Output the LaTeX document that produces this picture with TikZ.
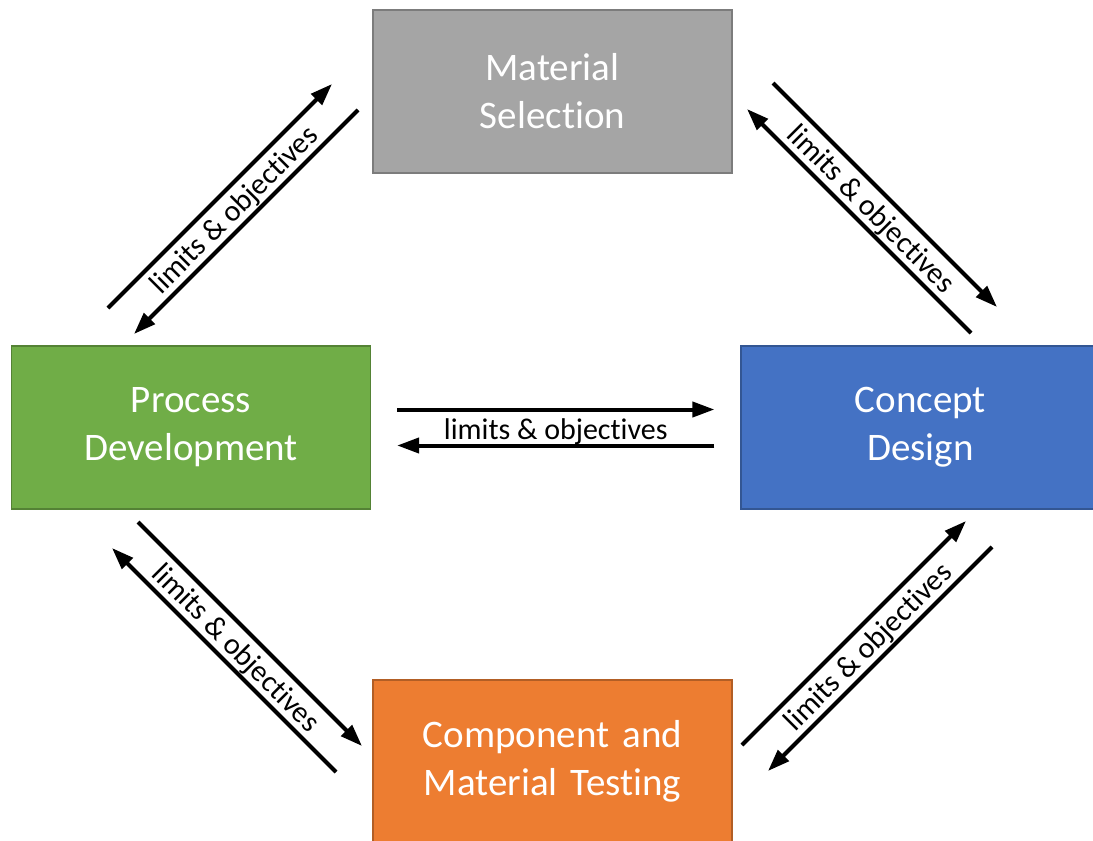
\documentclass[tikz,border=0pt]{standalone}
\usepackage{fontspec}
\setmainfont{Carlito}[Ligatures=NoCommon]
\usetikzlibrary{arrows.meta}

\definecolor{msgray}{HTML}{A5A5A5}
\definecolor{pdgreen}{HTML}{70AD47}
\definecolor{cdblue}{HTML}{4472C4}
\definecolor{ctorange}{HTML}{ED7D31}

\begin{document}
\begin{tikzpicture}[x=1pt,y=1pt,node distance=336pt]

\tikzstyle{box} = [rectangle, minimum width=359pt, minimum height=163pt, text width=340pt, align=center, text=white, line width=1.2pt, font=\fontsize{39}{48}\selectfont]
\tikzstyle{arr} = [line width=4pt, -{Triangle[length=22pt,width=15pt]}]
\tikzstyle{lbl} = [font=\fontsize{30}{32}\selectfont, inner sep=0pt]

\clip (0,0) rectangle (1093,-841);

% the four stages
\node (ms) [box, fill=msgray, draw=msgray!75!black] at (552.5,-91.5) {Material\\Selection};
\node (pd) [box, below of=ms, xshift=-361.5pt, fill=pdgreen, draw=pdgreen!75!black] {Process\\Development};
\node (cd) [box, below of=ms, xshift=368pt, fill=cdblue, draw=cdblue!75!black] {Concept\\Design};
\node (ct) [box, below of=pd, node distance=334pt, xshift=361.5pt, fill=ctorange, draw=ctorange!75!black] {Component and\\Material Testing};

% middle of each arrow pair
\coordinate (pdms) at (233,-209);
\coordinate (mscd) at (872,-208);
\coordinate (pdct) at (237,-647);
\coordinate (ctcd) at (867,-646);

\draw[arr] ([shift={(-125,-99)}]pdms) -- ([shift={(99,125)}]pdms) node[lbl, midway, sloped, below=6pt] {limits \& objectives};
\draw[arr] ([shift={(125,99)}]pdms) -- ([shift={(-99,-125)}]pdms);

\draw[arr] ([shift={(-99,125)}]mscd) -- ([shift={(125,-99)}]mscd) node[lbl, midway, sloped, below=6pt] {limits \& objectives};
\draw[arr] ([shift={(99,-125)}]mscd) -- ([shift={(-125,99)}]mscd);

\draw[arr] ([shift={(26,18)}]pd.east) -- ([shift={(-26,18)}]cd.west) node[lbl, midway, below=7pt] {limits \& objectives};
\draw[arr] ([shift={(-26,-18)}]cd.west) -- ([shift={(26,-18)}]pd.east);

\draw[arr] ([shift={(-99,125)}]pdct) -- ([shift={(125,-99)}]pdct) node[lbl, midway, sloped, below=6pt] {limits \& objectives};
\draw[arr] ([shift={(99,-125)}]pdct) -- ([shift={(-125,99)}]pdct);

\draw[arr] ([shift={(-125,-99)}]ctcd) -- ([shift={(99,125)}]ctcd) node[lbl, midway, sloped, below=6pt] {limits \& objectives};
\draw[arr] ([shift={(125,99)}]ctcd) -- ([shift={(-99,-125)}]ctcd);

\end{tikzpicture}
\end{document}
